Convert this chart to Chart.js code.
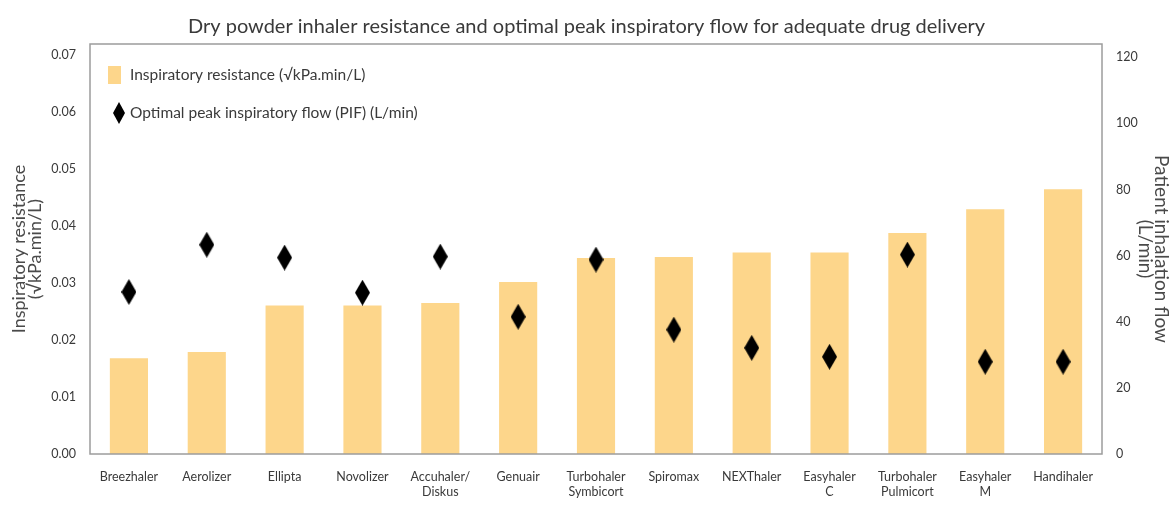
<!DOCTYPE html>
<html lang="en">
<head>
  <meta charset="UTF-8" />
  <title>DPI resistance and optimal PIF</title>
  <style>
    html, body {
      margin: 0;
      padding: 0;
      background: #ffffff;
    }
    #wrap {
      width: 1171px;
      height: 511px;
      position: relative;
    }
  </style>
</head>
<body>
  <div id="wrap">
    <canvas id="dpiChart"></canvas>
  </div>

  <script src="https://cdn.jsdelivr.net/npm/chart.js"></script>
  <script>
    // categories (multi-line labels as arrays)
    const inhalers = [
      'Breezhaler', 'Aerolizer', 'Ellipta', 'Novolizer', ['Accuhaler/', 'Diskus'],
      'Genuair', ['Turbohaler', 'Symbicort'], 'Spiromax', 'NEXThaler', ['Easyhaler', 'C'],
      ['Turbohaler', 'Pulmicort'], ['Easyhaler', 'M'], 'Handihaler'
    ];

    // inspiratory resistance, sqrt(kPa).min/L  (left axis)
    const resistance = [0.0168, 0.0179, 0.0261, 0.0261, 0.0265, 0.0302, 0.0344,
                        0.0346, 0.0354, 0.0354, 0.0388, 0.0430, 0.0465];

    // optimal peak inspiratory flow, L/min  (right axis)
    const optimalPif = [49, 63.3, 59.4, 48.8, 59.7, 41.5, 58.8, 37.6, 32.1, 29.4, 60.3, 27.9, 27.9];

    const leftTicks = [0, 0.01, 0.02, 0.03, 0.04, 0.05, 0.06, 0.07];
    const rightTicks = [0, 20, 40, 60, 80, 100, 120];

    const barColor = '#fdd68b';
    const textColor = '#3a3a3a';
    const axisTitleColor = '#4a4a4a';
    const frameColor = '#9c9c9c';
    const fontFamily = 'Lato, "Open Sans", sans-serif';

    // tall diamond marker
    function makeDiamond(w, h) {
      const c = document.createElement('canvas');
      c.width = w;
      c.height = h;
      const g = c.getContext('2d');
      g.fillStyle = '#000';
      g.beginPath();
      g.moveTo(w / 2, 0);
      g.lineTo(w, h / 2);
      g.lineTo(w / 2, h);
      g.lineTo(0, h / 2);
      g.closePath();
      g.fill();
      return c;
    }
    const diamond = makeDiamond(15, 26);
    const legendDiamond = makeDiamond(12, 22);

    // box around the plot area
    const frame = {
      id: 'frame',
      afterDatasetsDraw(chart) {
        const a = chart.chartArea;
        const ctx = chart.ctx;
        ctx.save();
        ctx.strokeStyle = frameColor;
        ctx.lineWidth = 1.5;
        ctx.strokeRect(a.left, a.top, a.right - a.left, a.bottom - a.top);
        ctx.restore();
      }
    };

    // stacked legend inside the plot, top-left
    const insideLegend = {
      id: 'insideLegend',
      afterDraw(chart) {
        const a = chart.chartArea;
        const ctx = chart.ctx;
        const barSet = chart.data.datasets.find(d => d.type === 'bar');
        const pifSet = chart.data.datasets.find(d => d.type === 'line');
        ctx.save();
        ctx.font = '15.5px ' + fontFamily;
        ctx.textBaseline = 'middle';
        // bars entry
        let y = a.top + 31;
        ctx.fillStyle = barColor;
        ctx.fillRect(a.left + 18, y - 9, 13, 18);
        ctx.fillStyle = textColor;
        ctx.fillText(barSet.label, a.left + 40, y);
        // diamond entry
        y = a.top + 69;
        ctx.drawImage(legendDiamond, a.left + 23, y - 11);
        ctx.fillText(pifSet.label, a.left + 40, y);
        ctx.restore();
      }
    };

    const ctx = document.getElementById('dpiChart').getContext('2d');
    new Chart(ctx, {
      data: {
        labels: inhalers,
        datasets: [
          {
            type: 'bar',
            label: 'Inspiratory resistance (\u221AkPa.min/L)',
            data: resistance,
            yAxisID: 'y',
            backgroundColor: barColor,
            barPercentage: 0.49,
            categoryPercentage: 1,
            order: 1
          },
          {
            type: 'line',
            label: 'Optimal peak inspiratory flow (PIF) (L/min)',
            data: optimalPif,
            yAxisID: 'y1',
            showLine: false,
            pointStyle: diamond,
            pointRadius: 8,
            borderColor: '#000',
            backgroundColor: '#000',
            order: 0
          }
        ]
      },
      options: {
        responsive: true,
        maintainAspectRatio: false,
        animation: false,
        layout: { padding: { left: 4, right: 2, top: 0, bottom: 2 } },
        plugins: {
          legend: { display: false },
          tooltip: { enabled: false },
          title: {
            display: true,
            text: 'Dry powder inhaler resistance and optimal peak inspiratory flow for adequate drug delivery',
            color: textColor,
            font: { family: fontFamily, size: 20, weight: 'normal' },
            padding: { top: 15, bottom: 5 }
          }
        },
        scales: {
          x: {
            afterFit(axis) { axis.height = 55; },
            grid: { display: false, drawTicks: false },
            border: { display: false },
            ticks: {
              color: textColor,
              font: { family: fontFamily, size: 12.5 },
              maxRotation: 0,
              autoSkip: false,
              padding: 15
            }
          },
          y: {
            position: 'left',
            min: 0,
            max: 0.072,
            afterBuildTicks(axis) {
              axis.ticks = leftTicks.map(v => ({ value: v }));
            },
            afterFit(axis) { axis.width = 86; },
            grid: { display: false, drawTicks: false },
            border: { display: false },
            ticks: {
              color: textColor,
              font: { family: fontFamily, size: 12.5 },
              padding: 14,
              callback: v => v.toFixed(2)
            },
            title: {
              display: true,
              text: ['Inspiratory resistance', '(\u221AkPa.min/L)'],
              color: axisTitleColor,
              font: { family: fontFamily, size: 18, lineHeight: 0.9 },
              padding: { top: 7, bottom: 4 }
            }
          },
          y1: {
            position: 'right',
            min: 0,
            max: 124,
            afterBuildTicks(axis) {
              axis.ticks = rightTicks.map(v => ({ value: v }));
            },
            afterFit(axis) { axis.width = 67; },
            grid: { display: false, drawTicks: false },
            border: { display: false },
            ticks: {
              color: textColor,
              font: { family: fontFamily, size: 12.5 },
              padding: 14
            },
            title: {
              display: true,
              text: ['Patient inhalation flow', '(L/min)'],
              color: axisTitleColor,
              font: { family: fontFamily, size: 19, lineHeight: 0.85 },
              padding: { top: 0, bottom: 4 }
            }
          }
        }
      },
      plugins: [frame, insideLegend]
    });
  </script>
</body>
</html>
